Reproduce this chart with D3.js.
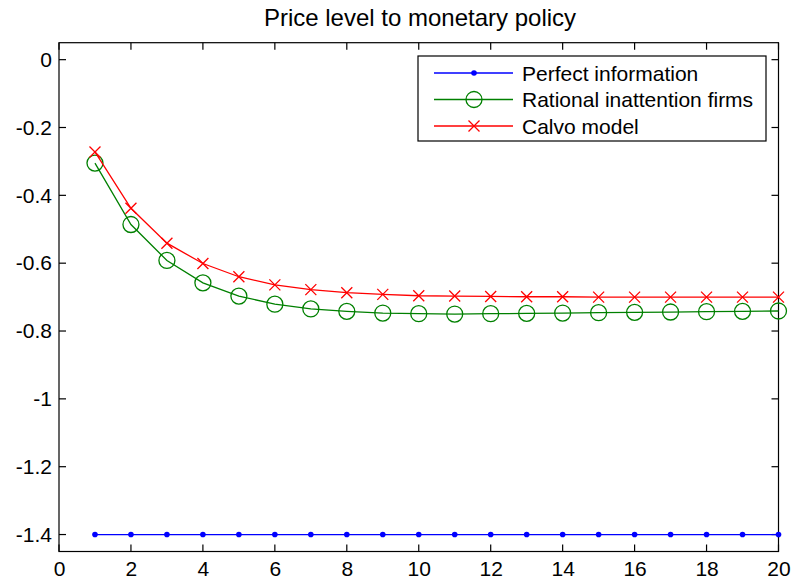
<!DOCTYPE html>
<html><head><meta charset="utf-8">
<script src="https://cdn.jsdelivr.net/npm/d3@7"></script>
<style>body{margin:0;background:#fff}svg{display:block}text{font-family:"Liberation Sans",Arial,sans-serif;fill:#000}</style>
</head><body><svg id="c" width="794" height="587"></svg>
<script>
const periods = d3.range(1, 21);
const perfectInfo = [-1.4,-1.4,-1.4,-1.4,-1.4,-1.4,-1.4,-1.4,-1.4,-1.4,-1.4,-1.4,-1.4,-1.4,-1.4,-1.4,-1.4,-1.4,-1.4,-1.4];
const rationalInattention = [-0.305,-0.486,-0.592,-0.658,-0.697,-0.721,-0.735,-0.742,-0.747,-0.749,-0.750,-0.749,-0.748,-0.747,-0.746,-0.745,-0.744,-0.743,-0.742,-0.741];
const calvo = [-0.272,-0.438,-0.541,-0.601,-0.640,-0.664,-0.678,-0.687,-0.692,-0.696,-0.697,-0.698,-0.699,-0.699,-0.700,-0.700,-0.700,-0.700,-0.700,-0.700];
const xTicks = [0,2,4,6,8,10,12,14,16,18,20];
const yTicks = [0,-0.2,-0.4,-0.6,-0.8,-1,-1.2,-1.4];
const yTickLabels = ["0","-0.2","-0.4","-0.6","-0.8","-1","-1.2","-1.4"];
const seriesNames = ["Perfect information","Rational inattention firms","Calvo model"];
const title = "Price level to monetary policy";

const svg = d3.select("#c");
const L = 59, R = 778.5, T = 42.7, B = 551.5;
const x = d3.scaleLinear().domain([0,20]).range([L,R]);
const y = d3.scaleLinear().domain([-1.45,0.05]).range([B,T]);

// axes box
svg.append("rect").attr("x",L).attr("y",T).attr("width",R-L).attr("height",B-T)
  .attr("fill","none").attr("stroke","#000").attr("stroke-width",1.2);

const tl = 7;
const bottomAxis = d3.axisBottom(x).tickValues(xTicks).tickSize(0).tickPadding(10).tickFormat(d3.format("d"));
const gx = svg.append("g").attr("transform",`translate(0,${B})`).call(bottomAxis);
gx.select(".domain").remove();
gx.selectAll("text").attr("font-size",21).attr("font-family","Liberation Sans, Arial, sans-serif");
const leftAxis = d3.axisLeft(y).tickValues(yTicks).tickSize(0).tickPadding(7).tickFormat((d,i)=>yTickLabels[i]);
const gy = svg.append("g").attr("transform",`translate(${L},0)`).call(leftAxis);
gy.select(".domain").remove();
gy.selectAll("text").attr("font-size",21).attr("font-family","Liberation Sans, Arial, sans-serif");

// inward ticks on all four sides
const tg = svg.append("g").attr("stroke","#000").attr("stroke-width",1.2);
xTicks.forEach(t=>{
  tg.append("line").attr("x1",x(t)).attr("x2",x(t)).attr("y1",B).attr("y2",B-tl);
  tg.append("line").attr("x1",x(t)).attr("x2",x(t)).attr("y1",T).attr("y2",T+tl);
});
yTicks.forEach(t=>{
  tg.append("line").attr("y1",y(t)).attr("y2",y(t)).attr("x1",L).attr("x2",L+tl);
  tg.append("line").attr("y1",y(t)).attr("y2",y(t)).attr("x1",R).attr("x2",R-tl);
});

const line = d3.line().x((d,i)=>x(periods[i])).y(d=>y(d));
const colors = ["#0000ff","#008000","#ff0000"];
const series = [perfectInfo, rationalInattention, calvo];

function marker(g, kind, cx, cy, color){
  if(kind===0){
    g.append("circle").attr("cx",cx).attr("cy",cy).attr("r",2.8).attr("fill",color);
  } else if(kind===1){
    g.append("circle").attr("cx",cx).attr("cy",cy).attr("r",8).attr("fill","none").attr("stroke",color).attr("stroke-width",1.3);
  } else {
    const s=5.5;
    g.append("path").attr("d",`M${cx-s},${cy-s}L${cx+s},${cy+s}M${cx-s},${cy+s}L${cx+s},${cy-s}`)
      .attr("stroke",color).attr("stroke-width",1.3).attr("fill","none");
  }
}

series.forEach((vals,k)=>{
  svg.append("path").datum(vals).attr("d",line).attr("fill","none").attr("stroke",colors[k]).attr("stroke-width",1.3);
  const g = svg.append("g");
  vals.forEach((v,i)=>marker(g,k,x(periods[i]),y(v),colors[k]));
});

// title
svg.append("text").attr("x",420).attr("y",26).attr("text-anchor","middle").attr("font-size",24).text(title);

// legend
const lg = svg.append("g");
lg.append("rect").attr("x",418).attr("y",56).attr("width",348).attr("height",85)
  .attr("fill","#fff").attr("stroke","#000").attr("stroke-width",1.2);
seriesNames.forEach((n,k)=>{
  const cy = 73 + k*26.5;
  lg.append("line").attr("x1",434).attr("x2",513).attr("y1",cy).attr("y2",cy).attr("stroke",colors[k]).attr("stroke-width",1.3);
  marker(lg,k,474,cy,colors[k]);
  lg.append("text").attr("x",522).attr("y",cy+7.5).attr("font-size",21).text(n);
});
</script></body></html>
